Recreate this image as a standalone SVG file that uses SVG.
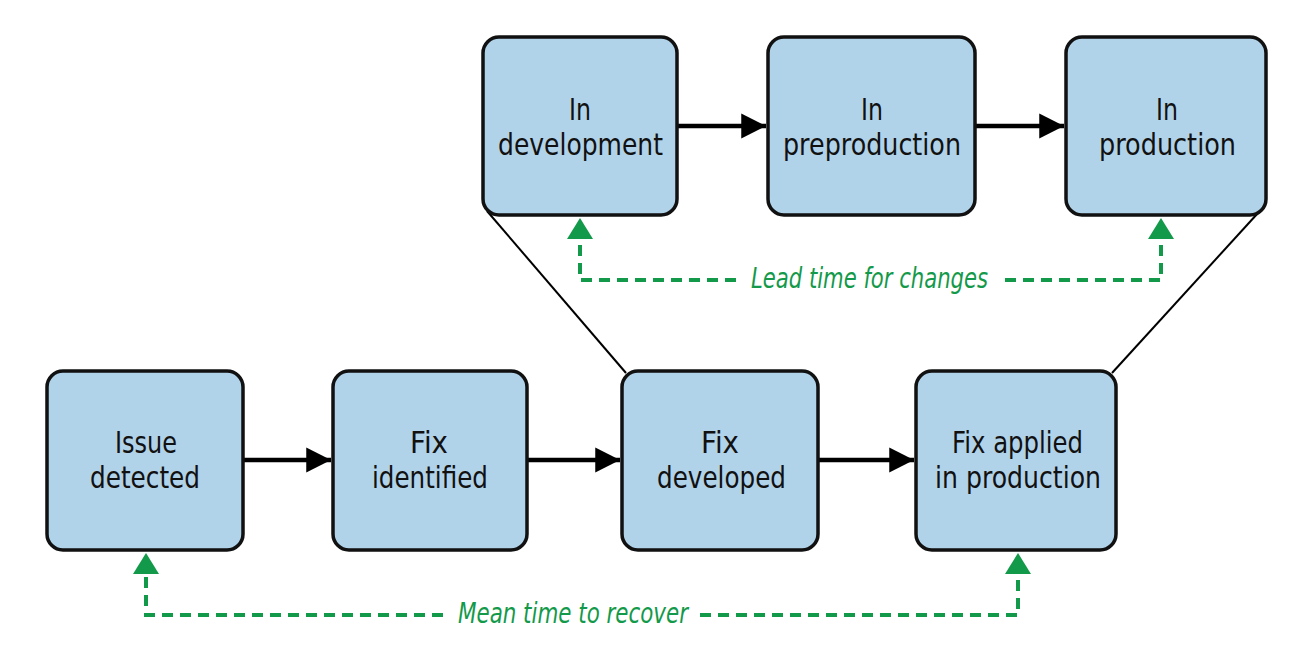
<svg xmlns="http://www.w3.org/2000/svg" width="1314" height="649" viewBox="0 0 1314 649">
<style>
.box{fill:#b1d3ea;stroke:#111;stroke-width:3.5}
.lbl{font-family:"DejaVu Sans","Liberation Sans",sans-serif;font-size:31px;fill:#111;text-anchor:middle}
.flow{stroke:#000;stroke-width:4.5;fill:none}
.thin{stroke:#000;stroke-width:2;fill:none}
.dash{stroke:#13994a;stroke-width:4;fill:none;stroke-dasharray:11 7}
.gh{fill:#13994a}
.glbl{font-family:"DejaVu Sans","Liberation Sans",sans-serif;font-style:italic;font-size:29px;fill:#13994a;text-anchor:middle}
</style>
<defs>
<marker id="ah" markerWidth="6" markerHeight="6" refX="5.5" refY="3" orient="auto" markerUnits="strokeWidth"><path d="M0,0.2 L5.5,3 L0,5.8 z" fill="#000"/></marker>
</defs>
<g id="connectors">
<line class="thin" x1="487" y1="211" x2="626" y2="373"/>
<line class="thin" x1="1258" y1="213" x2="1112" y2="373"/>
<line class="flow" x1="677" y1="126" x2="766" y2="126" marker-end="url(#ah)"/>
<line class="flow" x1="975" y1="126" x2="1064" y2="126" marker-end="url(#ah)"/>
<line class="flow" x1="243" y1="460" x2="331" y2="460" marker-end="url(#ah)"/>
<line class="flow" x1="527" y1="460" x2="620" y2="460" marker-end="url(#ah)"/>
<line class="flow" x1="818" y1="460" x2="914" y2="460" marker-end="url(#ah)"/>
<path class="dash" d="M736,280 H580 V230" />
<path class="gh" d="M567,239 L580,218 L593,239 z"/>
<path class="dash" d="M1005,280 H1161 V230" />
<path class="gh" d="M1148,239 L1161,218 L1174,239 z"/>
<text class="glbl" x="869.5" y="288" textLength="237" lengthAdjust="spacingAndGlyphs">Lead time for changes</text>
<path class="dash" d="M443,615 H146 V565" />
<path class="gh" d="M133,574 L146,553 L159,574 z"/>
<path class="dash" d="M700,615 H1018 V565" />
<path class="gh" d="M1005,574 L1018,553 L1031,574 z"/>
<text class="glbl" x="573" y="623" textLength="230" lengthAdjust="spacingAndGlyphs">Mean time to recover</text>
</g>
<g id="n-dev"><rect class="box" x="483" y="37" width="194" height="178" rx="16"/><text class="lbl" x="580" y="120" textLength="22" lengthAdjust="spacingAndGlyphs">In</text><text class="lbl" x="580.5" y="155" textLength="165" lengthAdjust="spacingAndGlyphs">development</text></g>
<g id="n-preprod"><rect class="box" x="768" y="37" width="207" height="178" rx="16"/><text class="lbl" x="872" y="120" textLength="22" lengthAdjust="spacingAndGlyphs">In</text><text class="lbl" x="872" y="155" textLength="178" lengthAdjust="spacingAndGlyphs">preproduction</text></g>
<g id="n-prod"><rect class="box" x="1066" y="37" width="200" height="178" rx="16"/><text class="lbl" x="1167" y="120" textLength="22" lengthAdjust="spacingAndGlyphs">In</text><text class="lbl" x="1167.5" y="155" textLength="137" lengthAdjust="spacingAndGlyphs">production</text></g>
<g id="n-issue"><rect class="box" x="47" y="371" width="196" height="179" rx="16"/><text class="lbl" x="146" y="453" textLength="62" lengthAdjust="spacingAndGlyphs">Issue</text><text class="lbl" x="145" y="488" textLength="110" lengthAdjust="spacingAndGlyphs">detected</text></g>
<g id="n-ident"><rect class="box" x="333" y="371" width="194" height="179" rx="16"/><text class="lbl" x="429" y="453" textLength="38" lengthAdjust="spacingAndGlyphs">Fix</text><text class="lbl" x="430" y="488" textLength="116" lengthAdjust="spacingAndGlyphs">identified</text></g>
<g id="n-devd"><rect class="box" x="622" y="371" width="196" height="179" rx="16"/><text class="lbl" x="720" y="453" textLength="38" lengthAdjust="spacingAndGlyphs">Fix</text><text class="lbl" x="721.5" y="488" textLength="129" lengthAdjust="spacingAndGlyphs">developed</text></g>
<g id="n-applied"><rect class="box" x="916" y="371" width="200" height="179" rx="16"/><text class="lbl" x="1017.5" y="453" textLength="131" lengthAdjust="spacingAndGlyphs">Fix applied</text><text class="lbl" x="1018" y="488" textLength="166" lengthAdjust="spacingAndGlyphs">in production</text></g>
</svg>
